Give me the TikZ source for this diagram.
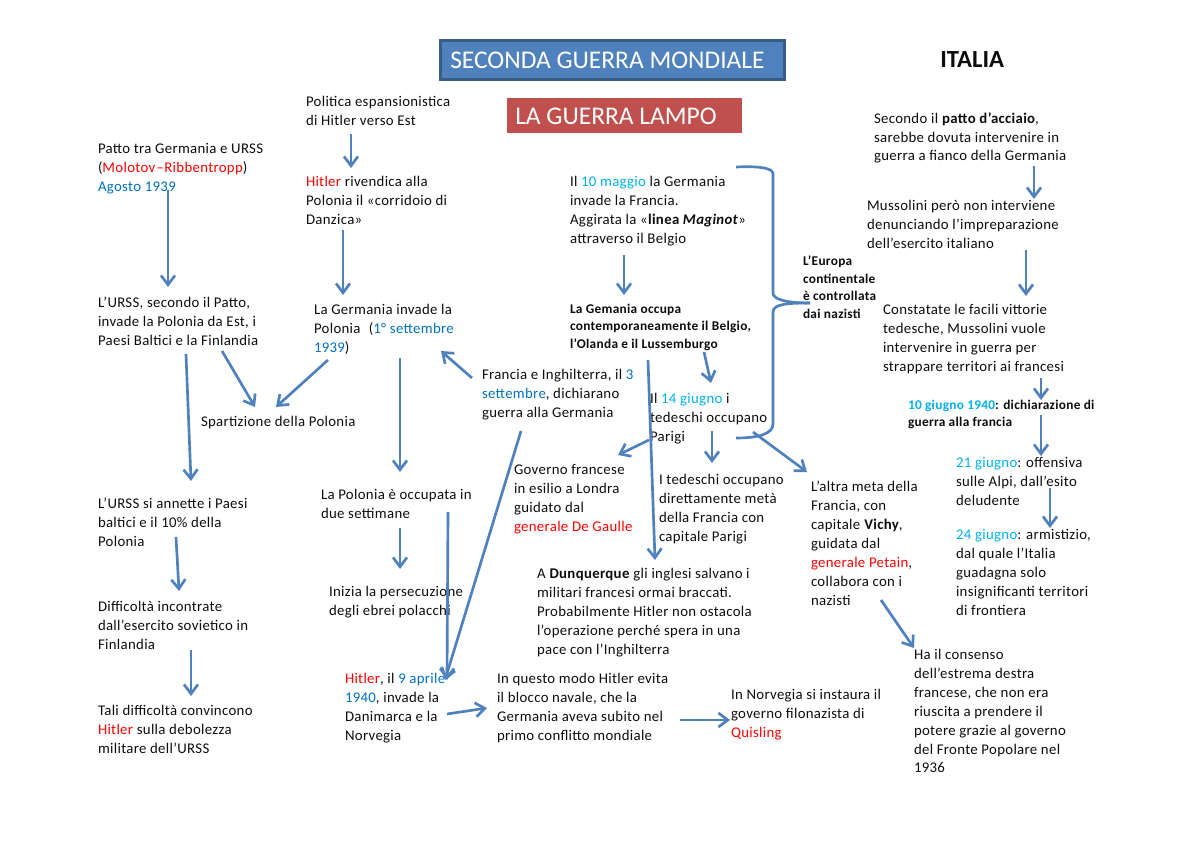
\documentclass[tikz,border=0pt]{standalone}
\usepackage{fontspec}
\setmainfont{Carlito}[LetterSpace=2.2]
\newfontfamily\headfont{Carlito}
\usetikzlibrary{arrows.meta}
\definecolor{barblue}{HTML}{4F81BD}
\definecolor{bardark}{HTML}{385D8A}
\definecolor{barred}{HTML}{C0504D}
\definecolor{dateblue}{HTML}{0070C0}
\definecolor{lightdate}{HTML}{00B0F0}
\definecolor{namered}{HTML}{FF0000}
\definecolor{txt}{HTML}{0D0D0D}
\newcommand{\rd}[1]{\textcolor{namered}{#1}}
\newcommand{\bl}[1]{\textcolor{dateblue}{#1}}
\newcommand{\lb}[1]{\textcolor{lightdate}{#1}}
\tikzset{
  note/.style={anchor=north west,inner xsep=0pt,inner ysep=1.8pt,outer sep=0pt,align=left,text=txt,font=\fontsize{11.1pt}{14.15pt}\selectfont},
  boldnote/.style={note,inner ysep=1.5pt,font=\fontsize{10pt}{13.1pt}\selectfont\bfseries},
  arr/.style={draw=barblue,line width=2pt,-{Straight Barb[length=7pt,width=10.5pt,line width=2pt]}},
  plain/.style={draw=barblue,line width=2pt},
  titlebox/.style={rectangle,inner sep=0pt,text=white,font=\headfont\fontsize{19.1pt}{21pt}\selectfont}
}
\begin{document}
\begin{tikzpicture}[x=0.75pt,y=-0.75pt]
\useasboundingbox (0,0) rectangle (1200,848);
\fill[white] (0,0) rectangle (1200,848);
% title boxes
\node[titlebox,anchor=north west,minimum width=258pt,minimum height=29.25pt,fill=barblue,draw=bardark,line width=2.25pt] (title) at (439,39) {};
\node[titlebox,anchor=west,inner sep=0pt] (titletext) at (450,60) {SECONDA GUERRA MONDIALE};
\node[titlebox,anchor=north west,minimum width=176.25pt,minimum height=26.25pt,fill=barred] (lampo) at (507,98) {};
\node[titlebox,anchor=west,inner sep=0pt] (lampotext) at (515,116) {LA GUERRA LAMPO};
\node[anchor=west,inner sep=0pt,font=\headfont\fontsize{18.5pt}{20pt}\selectfont\bfseries,text=txt] (italia) at (940,60) {ITALIA};
% texts
\node[note] (pol) at (306,94) {Politica espansionistica\\di Hitler verso Est};
\node[note] (patto) at (98,141) {Patto tra Germania e URSS\\(\rd{Molotov\kern1pt–Ribbentropp})\\\bl{Agosto 1939}};
\node[note] (hit) at (306,174) {\rd{Hitler} rivendica alla\\Polonia il «corridoio di\\Danzica»};
\node[note] (urss) at (98,295) {L’URSS, secondo il Patto,\\invade la Polonia da Est, i\\Paesi Baltici e la Finlandia};
\node[note] (ginv) at (314,302) {La Germania invade la\\Polonia\kern3.5pt\ (\bl{1° settembre}\\\bl{1939})};
\node[note] (spart) at (201,414) {Spartizione della Polonia};
\node[note] (fra) at (482,367) {Francia e Inghilterra, il \bl{3}\\\bl{settembre}, dichiarano\\guerra alla Germania};
\node[note] (urssb) at (98,496) {L’URSS si annette i Paesi\\baltici e il 10\% della\\Polonia};
\node[note] (pocc) at (321,487) {La Polonia è occupata in\\due settimane};
\node[note] (diff) at (98,599) {Difficoltà incontrate\\dall’esercito sovietico in\\Finlandia};
\node[note] (iniz) at (329,584) {Inizia la persecuzione\\degli ebrei polacchi};
\node[note] (tali) at (98,703) {Tali difficoltà convincono\\\rd{Hitler} sulla debolezza\\militare dell’URSS};
\node[note] (hitb) at (345,671) {\rd{Hitler}, il \bl{9 aprile}\\\bl{1940}, invade la\\Danimarca e la\\Norvegia};
\node[note] (modo) at (497,671) {In questo modo Hitler evita\\il blocco navale, che la\\Germania aveva subito nel\\primo conflitto mondiale};
\node[note] (norv) at (731,687) {In Norvegia si instaura il\\governo filonazista di\\\rd{Quisling}};
\node[note] (dunq) at (537,566) {A \textbf{Dunquerque} gli inglesi salvano i\\militari francesi ormai braccati.\\Probabilmente Hitler non ostacola\\l’operazione perché spera in una\\pace con l’Inghilterra};
\node[note] (gov) at (514,462) {Governo francese\\in esilio a Londra\\guidato dal\\\rd{generale De Gaulle}};
\node[note] (ted) at (659,472) {I tedeschi occupano\\direttamente metà\\della Francia con\\capitale Parigi};
\node[note] (altra) at (811,479) {L’altra meta della\\Francia, con\\capitale \textbf{Vichy},\\guidata dal\\\rd{generale Petain},\\collabora con i\\nazisti};
\node[note] (giu) at (650,391) {Il \lb{14 giugno} i\\tedeschi occupano\\Parigi};
\node[note] (mag) at (570,174) {Il \lb{10 maggio} la Germania\\invade la Francia.\\Aggirata la «\textbf{linea \textit{Maginot}}»\\attraverso il Belgio};
\node[boldnote] (germ) at (570,302) {La Gemania occupa\\contemporaneamente il Belgio,\\l’Olanda e il Lussemburgo};
\node[boldnote] (eur) at (803,254) {L’Europa\\continentale\\è controllata\\dai nazisti};
\node[note] (sec) at (874,110) {Secondo il \textbf{patto d’acciaio},\\sarebbe dovuta intervenire in\\guerra a fianco della Germania};
\node[note] (mus) at (867,198) {Mussolini però non interviene\\denunciando l’impreparazione\\dell’esercito italiano};
\node[note] (con) at (883,302) {Constatate le facili vittorie\\tedesche, Mussolini vuole\\intervenire in guerra per\\strappare territori ai francesi};
\node[boldnote] (dieci) at (908,398) {\lb{10 giugno 1940}: dichiarazione di\\guerra alla francia};
\node[note] (vent) at (956,455) {\lb{21 giugno}: offensiva\\sulle Alpi, dall’esito\\deludente};
\node[note] (arm) at (956,527) {\lb{24 giugno}: armistizio,\\dal quale l’Italia\\guadagna solo\\insignificanti territori\\di frontiera};
\node[note] (ha) at (914,647) {Ha il consenso\\dell’estrema destra\\francese, che non era\\riuscita a prendere il\\potere grazie al governo\\del Fronte Popolare nel\\1936};
% connectors (offsets measured from each node's top-left corner)
\draw[arr] ([shift={(45,40)}]pol.north west) -- ([shift={(45,-6)}]hit.north west);
\draw[arr] ([shift={(70,49)}]patto.north west) -- ([shift={(70,-8)}]urss.north west);
\draw[arr] ([shift={(37,56)}]hit.north west) -- ([shift={(29,-7)}]ginv.north west);
\draw[arr] ([shift={(88,59)}]urss.north west) -- ([shift={(93,-15)}]urssb.north west);
\draw[arr] ([shift={(124,56)}]urss.north west) -- ([shift={(54,-7)}]spart.north west);
\draw[arr] ([shift={(14,58)}]ginv.north west) -- ([shift={(75,-7)}]spart.north west);
\draw[arr] ([shift={(86,56)}]ginv.north west) -- ([shift={(79,-15)}]pocc.north west);
\draw[arr] ([shift={(-10,11)}]fra.north west) -- ([shift={(127,49)}]ginv.north west);
\draw[arr] ([shift={(39,64)}]fra.north west) -- ([shift={(100,9)}]hitb.north west);
\draw[arr] ([shift={(127,25)}]pocc.north west) -- ([shift={(102,9)}]hitb.north west);
\draw[arr] ([shift={(79,41)}]pocc.north west) -- ([shift={(71,-15)}]iniz.north west);
\draw[arr] ([shift={(78,41)}]urssb.north west) -- ([shift={(81,-8)}]diff.north west);
\draw[arr] ([shift={(93,51)}]diff.north west) -- ([shift={(93,-7)}]tali.north west);
\draw[arr] ([shift={(102,43)}]hitb.north west) -- ([shift={(-10,37)}]modo.north west);
\draw[arr] ([shift={(183,49)}]modo.north west) -- ([shift={(-1,33)}]norv.north west);
\draw[arr] ([shift={(54,81)}]mag.north west) -- ([shift={(54,-7)}]germ.north west);
\draw[arr] ([shift={(78,58)}]germ.north west) -- ([shift={(118,-6)}]dunq.north west);
\draw[arr] ([shift={(134,50)}]germ.north west) -- ([shift={(61,-8)}]giu.north west);
\draw[arr] ([shift={(-1,49)}]giu.north west) -- ([shift={(104,-7)}]gov.north west);
\draw[arr] ([shift={(62,40)}]giu.north west) -- ([shift={(53,-9)}]ted.north west);
\draw[arr] ([shift={(103,41)}]giu.north west) -- ([shift={(-4,-7)}]altra.north west);
\draw[arr] ([shift={(70,121)}]altra.north west) -- ([shift={(0,1)}]ha.north west);
\draw[arr] ([shift={(160,56)}]sec.north west) -- ([shift={(167,1)}]mus.north west);
\draw[arr] ([shift={(159,52)}]mus.north west) -- ([shift={(143,-6)}]con.north west);
\draw[arr] ([shift={(158,76)}]con.north west) -- ([shift={(133,2)}]dieci.north west);
\draw[arr] ([shift={(133,17)}]dieci.north west) -- ([shift={(85,1)}]vent.north west);
\draw[arr] ([shift={(94,33)}]vent.north west) -- ([shift={(94,1)}]arm.north west);
% bracket joining the French campaign to its label
\draw[plain] ([shift={(166,-7)}]mag.north west) .. controls ([shift={(190,-8)}]mag.north west) and ([shift={(203,-6)}]mag.north west) .. ([shift={(203,0)}]mag.north west) -- ([shift={(203,119)}]mag.north west) .. controls ([shift={(203,125)}]mag.north west) and ([shift={(-18,49)}]eur.north west) .. ([shift={(7,49)}]eur.north west);
\draw[plain] ([shift={(7,49)}]eur.north west) .. controls ([shift={(-15,49)}]eur.north west) and ([shift={(-30,50)}]eur.north west) .. ([shift={(-30,58)}]eur.north west) -- ([shift={(-30,170)}]eur.north west) .. controls ([shift={(-30,180)}]eur.north west) and ([shift={(-45,184)}]eur.north west) .. ([shift={(-67,184)}]eur.north west);
\end{tikzpicture}
\end{document}
